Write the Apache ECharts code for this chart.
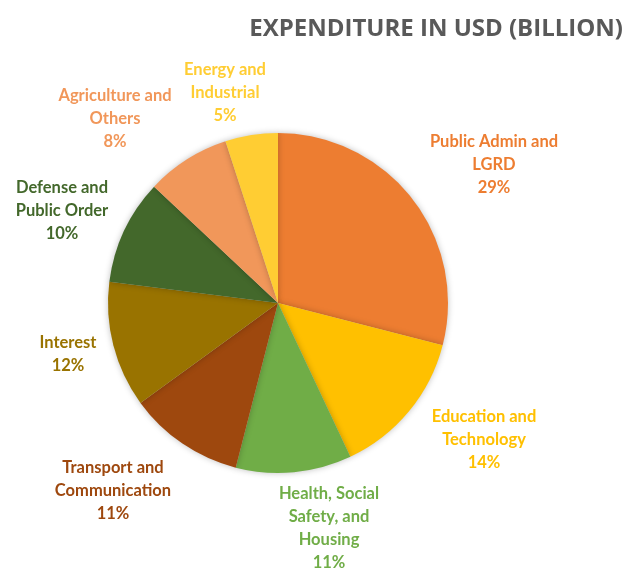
<!DOCTYPE html>
<html>
<head>
<meta charset="utf-8">
<script src="https://cdn.jsdelivr.net/npm/echarts@6/dist/echarts.min.js"></script>
<style>
  html, body { margin: 0; padding: 0; background: #ffffff; }
  #chart { width: 631px; height: 569px; }
</style>
</head>
<body>
<div id="chart"></div>
<script>
// Spending shares, clockwise from 12 o'clock
const categories = [
  'Public Admin and\nLGRD',
  'Education and\nTechnology',
  'Health, Social\nSafety, and\nHousing',
  'Transport and\nCommunication',
  'Interest',
  'Defense and\nPublic Order',
  'Agriculture and\nOthers',
  'Energy and\nIndustrial'
];
const shares = [29, 14, 11, 11, 12, 10, 8, 5];
const sliceColors = ['#ED7D31', '#FFC000', '#70AD47', '#9E480E', '#997300', '#43682B', '#F1975A', '#FFCD33'];

// Centre point of each label block, in pixels
const labelAnchors = [
  [494, 165], [484, 440], [329, 528], [113, 491],
  [68, 354], [62, 211], [115, 119], [225, 93]
];

const chart = echarts.init(document.getElementById('chart'), null, { renderer: 'canvas' });

chart.setOption({
  backgroundColor: '#ffffff',
  animation: false,
  title: {
    text: 'EXPENDITURE IN USD (BILLION)',
    right: 3,
    top: 12,
    textStyle: {
      fontFamily: 'Open Sans',
      fontWeight: 'bold',
      fontSize: 24,
      color: '#595959'
    }
  },
  series: [{
    type: 'pie',
    center: [278, 303],
    radius: 170,
    startAngle: 90,
    clockwise: true,
    data: categories.map((name, i) => ({
      name: name,
      value: shares[i],
      itemStyle: { color: sliceColors[i] },
      label: { color: sliceColors[i] }
    })),
    itemStyle: {
      borderWidth: 0,
      shadowBlur: 6,
      shadowColor: 'rgba(0,0,0,0.25)'
    },
    label: {
      show: true,
      position: 'outside',
      formatter: p => p.name + '\n' + p.value + '%',
      fontFamily: 'Lato',
      fontWeight: 'bold',
      fontSize: 16.5,
      lineHeight: 23,
      align: 'center',
      overflow: 'none',
      width: 200
    },
    labelLine: { show: false },
    labelLayout: params => {
      const a = labelAnchors[params.dataIndex];
      return { x: a[0], y: a[1], align: 'center', verticalAlign: 'middle' };
    }
  }]
});
</script>
</body>
</html>
